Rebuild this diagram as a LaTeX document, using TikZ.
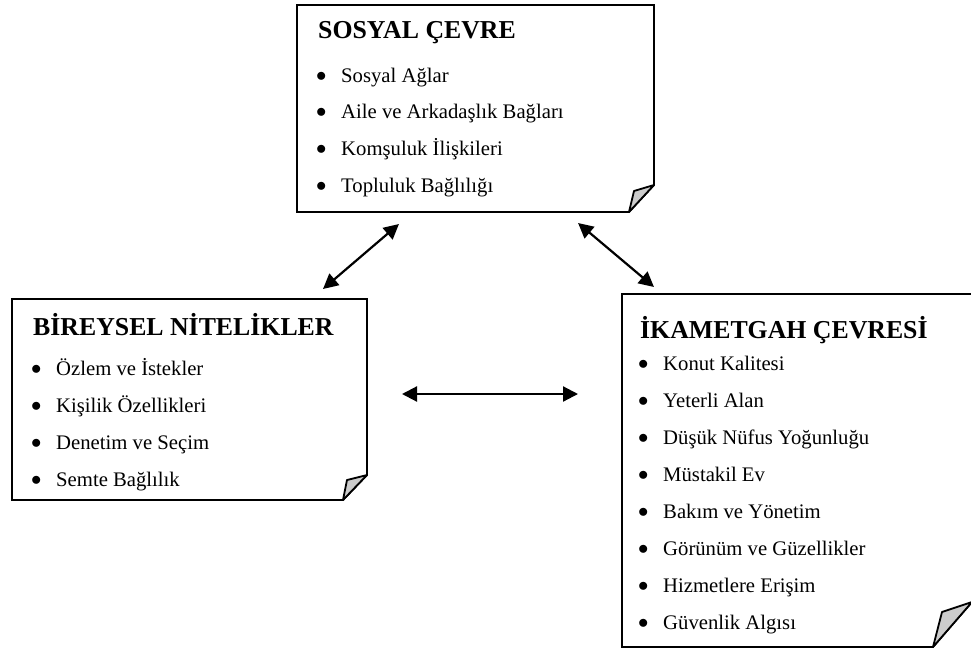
\documentclass[tikz,border=0pt]{standalone}
\usepackage{fontspec}
\setmainfont{Liberation Serif}
\usetikzlibrary{arrows.meta}

\tikzset{
  paper/.style={rectangle,minimum width=#1,inner sep=0pt,outer sep=0pt,anchor=north west},
  paperline/.style={line width=1.8pt,fill=white},
  flap/.style={line width=1.8pt,fill=black!20,line join=round},
  heading/.style={anchor=base west,inner sep=0pt,font=\fontsize{25.8}{30}\selectfont\bfseries},
  entry/.style={anchor=base west,inner sep=0pt,font=\fontsize{20.7}{25}\selectfont},
  link/.style={{Triangle[length=15pt,width=15pt]}-{Triangle[length=15pt,width=15pt]},line width=2.2pt}
}

% sheet with a turned-up corner: name, right cut, bottom cut, inner x, inner y
\newcommand{\dogear}[5]{%
  \draw[paperline] (#1.north west) -- (#1.north east) -- ([yshift=#2pt]#1.south east)
    -- ([xshift=-#3pt]#1.south east) -- (#1.south west) -- cycle;
  \draw[flap] ([yshift=#2pt]#1.south east) -- ([xshift=-#4pt,yshift=#5pt]#1.south east)
    -- ([xshift=-#3pt]#1.south east) -- cycle;}
\newcommand{\itemdot}{\makebox[23pt][l]{\hspace{-2pt}\raisebox{1pt}{$\bullet$}}}

\begin{document}
\begin{tikzpicture}[x=1pt,y=-1pt]
\useasboundingbox (0,0) rectangle (971,651);

\node[paper=357pt,minimum height=207pt] (sosyal) at (297,5) {};
\node[paper=355pt,minimum height=201pt] (bireysel) at (12,299) {};
\node[paper=350pt,minimum height=353pt] (ikamet) at (622,294) {};

\dogear{sosyal}{27}{25}{20}{21}
\dogear{bireysel}{25}{24}{20}{20}
\dogear{ikamet}{45}{39}{30}{35}

% top sheet
\node[heading] (sosyal-t) at (318,38) {SOSYAL ÇEVRE};
\foreach \t [count=\i] in {Sosyal Ağlar,Aile ve Arkadaşlık Bağları,Komşuluk İlişkileri,Topluluk Bağlılığı}
  \node[entry] (sosyal-\i) at (318,{82+36.7*(\i-1)}) {\itemdot\t};

% left sheet
\node[heading] (bireysel-t) at (33,335) {BİREYSEL NİTELİKLER};
\foreach \t [count=\i] in {Özlem ve İstekler,Kişilik Özellikleri,Denetim ve Seçim,Semte Bağlılık}
  \node[entry] (bireysel-\i) at (33,{375+37.3*(\i-1)}) {\itemdot\t};

% right sheet
\node[heading] (ikamet-t) at (640,338) {İKAMETGAH ÇEVRESİ};
\foreach \t [count=\i] in {Konut Kalitesi,Yeterli Alan,Düşük Nüfus Yoğunluğu,Müstakil Ev,Bakım ve Yönetim,Görünüm ve Güzellikler,Hizmetlere Erişim,Güvenlik Algısı}
  \node[entry] (ikamet-\i) at (640,{370+37.1*(\i-1)}) {\itemdot\t};

\draw[link,shorten <=15.4pt,shorten >=18.5pt] ([xshift=299.3pt]bireysel.north west) -- ([xshift=116pt]sosyal.south west);
\draw[link,shorten <=17.1pt,shorten >=10.9pt] ([xshift=268pt]sosyal.south west) -- ([xshift=40.3pt]ikamet.north west);
\draw[link,shorten <=35pt,shorten >=44pt] ([yshift=5.5pt]bireysel.east) -- ([yshift=5.5pt]bireysel.east -| ikamet.west);
\end{tikzpicture}
\end{document}
